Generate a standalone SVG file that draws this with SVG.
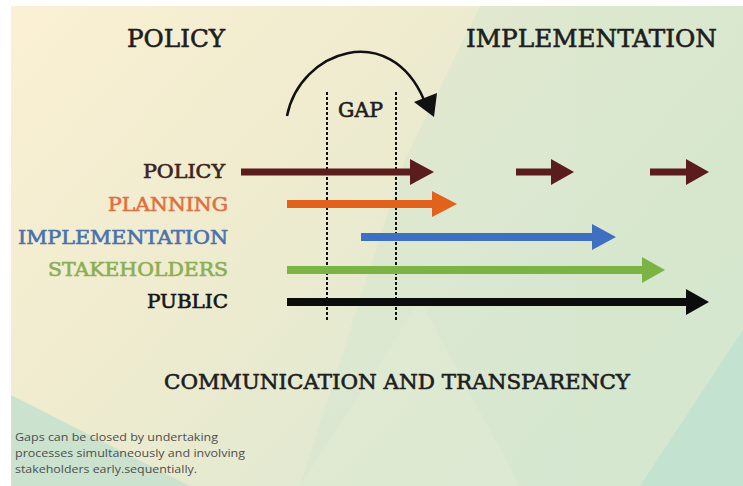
<svg xmlns="http://www.w3.org/2000/svg" width="743" height="486" viewBox="0 0 743 486">
<defs>
<linearGradient id="bg" x1="0" y1="0" x2="1" y2="0.6">
<stop offset="0" stop-color="#fbf0d3"/>
<stop offset="0.45" stop-color="#eeebcf"/>
<stop offset="1" stop-color="#d6e8d2"/>
</linearGradient>
<style>
.t{font-family:"DejaVu Serif","Liberation Serif",serif;font-weight:normal;stroke-width:0.6}
.title{font-size:24px;fill:#1e1e1e;stroke:#1e1e1e}
.lab{font-size:18px}
.note{font-family:"Open Sans","Liberation Sans",sans-serif;font-size:11.5px;fill:#4d4d4d}
.dash{stroke:#111;stroke-width:2;stroke-dasharray:3 2;fill:none}
</style>
</defs>
<rect x="0" y="0" width="743" height="486" fill="#ffffff"/>
<rect x="11" y="6" width="732" height="480" fill="url(#bg)"/>
<polygon points="480,6 743,6 743,486 300,486 405,160" fill="#d3e6cf" opacity="0.5"/>
<polygon points="576,6 743,6 743,486 576,486" fill="#d8e7cc" opacity="0.35"/>
<polygon points="11,395 190,486 11,486" fill="#cbe2cf"/>
<polygon points="743,330 743,486 640,486" fill="#c3e2d0"/>
<polygon points="300,486 420,300 520,486" fill="#e3ecd3" opacity="0.5"/>

<g id="title-policy"><text class="t title" x="127" y="47" textLength="98" lengthAdjust="spacingAndGlyphs">POLICY</text></g>
<g id="title-implementation"><text class="t title" x="466" y="47" textLength="251" lengthAdjust="spacingAndGlyphs">IMPLEMENTATION</text></g>

<g id="gap">
<line class="dash" x1="327" y1="92" x2="327" y2="322"/>
<line class="dash" x1="396" y1="92" x2="396" y2="322"/>
<text class="t" x="338" y="117" font-size="20" fill="#1e1e1e" stroke="#1e1e1e" textLength="45" lengthAdjust="spacingAndGlyphs">GAP</text>
<path d="M287,116 C300,50 390,20 424,100" fill="none" stroke="#111" stroke-width="2.5"/>
<polygon points="414,102 437,93 434,117" fill="#111"/>
</g>

<g id="label-policy"><text class="t lab" x="143" y="178" fill="#3b2420" stroke="#3b2420" textLength="82" lengthAdjust="spacingAndGlyphs">POLICY</text></g>
<g id="label-planning"><text class="t lab" x="108" y="211" fill="#e0703e" stroke="#e0703e" textLength="120" lengthAdjust="spacingAndGlyphs">PLANNING</text></g>
<g id="label-implementation"><text class="t lab" x="18" y="244" fill="#4a72ad" stroke="#4a72ad" textLength="210" lengthAdjust="spacingAndGlyphs">IMPLEMENTATION</text></g>
<g id="label-stakeholders"><text class="t lab" x="48" y="276" fill="#8cae55" stroke="#8cae55" textLength="180" lengthAdjust="spacingAndGlyphs">STAKEHOLDERS</text></g>
<g id="label-public"><text class="t lab" x="147" y="308" fill="#151515" stroke="#151515" textLength="81" lengthAdjust="spacingAndGlyphs">PUBLIC</text></g>

<g id="connectors">
<path d="M241,168.5 H410 V159 L434,172 L410,185 V175.5 H241 Z" fill="#5a1c1c"/>
<path d="M516,168.5 H551 V159 L574,172 L551,185 V175.5 H516 Z" fill="#5a1c1c"/>
<path d="M650,168.5 H686 V159 L709,172 L686,185 V175.5 H650 Z" fill="#5a1c1c"/>
<path d="M287,200 H432 V191 L457,204 L432,217 V208 H287 Z" fill="#e2621c"/>
<path d="M361,233 H592 V224 L616,237 L592,250 V241 H361 Z" fill="#3e70c2"/>
<path d="M287,266 H642 V257 L665,270 L642,283 V274 H287 Z" fill="#7bb445"/>
<path d="M287,298 H686 V289 L709,302 L686,315 V306 H287 Z" fill="#0c0c0c"/>
</g>

<g id="footer"><text class="t" x="164" y="389" font-size="20" fill="#1e1e1e" stroke="#1e1e1e" textLength="466" lengthAdjust="spacingAndGlyphs">COMMUNICATION AND TRANSPARENCY</text></g>

<g id="note">
<text class="note" x="15" y="441" textLength="203" lengthAdjust="spacingAndGlyphs">Gaps can be closed by undertaking</text>
<text class="note" x="15" y="457" textLength="230" lengthAdjust="spacingAndGlyphs">processes simultaneously and involving</text>
<text class="note" x="15" y="473" textLength="182" lengthAdjust="spacingAndGlyphs">stakeholders early.sequentially.</text>
</g>
</svg>
